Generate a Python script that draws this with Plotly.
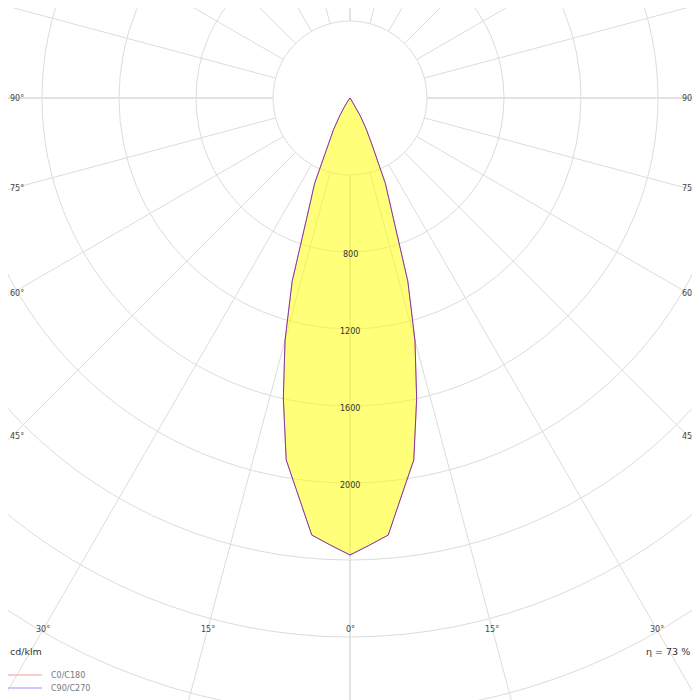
import numpy as np
import plotly.graph_objects as go

# Photometric data (cd/klm) per gamma angle
gamma_deg = [0, 2.5, 5, 7.5, 10, 12.5, 15, 17.5, 20, 22.5, 25, 27.5, 30,
             32.5, 35, 37.5, 40, 45, 50, 60, 70, 80, 90]
c0_c180 = [2374, 2325, 2279, 2075, 1909, 1600, 1304, 1000, 646, 480, 280, 186, 108,
           50, 18, 6, 0, 0, 0, 0, 0, 0, 0]
c90_c270 = [2374, 2325, 2279, 2075, 1909, 1600, 1304, 1000, 646, 480, 280, 186, 108,
            50, 18, 6, 0, 0, 0, 0, 0, 0, 0]

ring_values = [400, 800, 1200, 1600, 2000, 2400, 2800, 3200, 3600]
ring_labels = [800, 1200, 1600, 2000]
angle_labels = [0, 15, 30, 45, 60, 75, 90]
efficiency = 73
unit_label = "cd/klm"
series_names = ["C0/C180", "C90/C270"]

# the page puts the figure 8px in from the window corner
OFF = 8
W, H = 700 - OFF, 700 - OFF
cx, cy = 350 - OFF, 98 - OFF   # pole position in figure pixels
scale = 77 / 400               # pixels per cd/klm
x_range = [-cx / scale, (W - cx) / scale]
y_range = [-(H - cy) / scale, cy / scale]


def to_xy(angles, values):
    # gamma measured from the downward vertical; left half mirrors the right
    a = np.radians(np.concatenate([-np.array(angles[::-1]), np.array(angles[1:])]))
    v = np.concatenate([np.array(values[::-1]), np.array(values[1:])])
    return v * np.sin(a), -v * np.cos(a)


fig = go.Figure()

x0, y0 = to_xy(gamma_deg, c0_c180)
fig.add_trace(go.Scatter(
    x=x0, y=y0, mode="lines", name=series_names[0],
    line=dict(color="rgba(255,0,0,0.55)", width=1),
    fill="toself", fillcolor="rgba(255,255,0,0.52)",
    showlegend=False, hoverinfo="skip"
))
x1, y1 = to_xy(gamma_deg, c90_c270)
fig.add_trace(go.Scatter(
    x=x1, y=y1, mode="lines", name=series_names[1],
    line=dict(color="rgba(0,0,255,0.5)", width=1),
    showlegend=False, hoverinfo="skip"
))

shapes = []
grid_col = "#dcdcdc"
for r in ring_values:
    shapes.append(dict(type="circle", xref="x", yref="y", x0=-r, x1=r, y0=-r, y1=r,
                       line=dict(color=grid_col, width=1), layer="below"))
for a in range(0, 360, 15):
    t = np.radians(a)
    r0, r1 = ring_values[0], 5000
    main = a % 90 == 0
    shapes.append(dict(type="line", xref="x", yref="y",
                       x0=r0 * np.sin(t), y0=-r0 * np.cos(t),
                       x1=r1 * np.sin(t), y1=-r1 * np.cos(t),
                       line=dict(color="#e2e2e2" if main else grid_col, width=2 if main else 1),
                       layer="below"))

# legend swatches
legend_cols = ["rgb(255,185,185)", "rgb(185,185,255)"]
legend_y = [675 - OFF, 688 - OFF]
for col, py in zip(legend_cols, legend_y):
    shapes.append(dict(type="line", xref="paper", yref="paper",
                       x0=0, x1=34 / W, y0=1 - py / H, y1=1 - py / H,
                       line=dict(color=col, width=1.5)))

annotations = []
for v in ring_labels:
    annotations.append(dict(x=0, y=-v, xref="x", yref="y", text=str(v), showarrow=False,
                            yshift=-2, font=dict(size=8, color="#333")))

side = (350 - 11.5) / scale
bottom = (629.5 - 98) / scale
corner = np.degrees(np.arctan(side / bottom))
for a in angle_labels:
    t = np.radians(a)
    for sgn in ([1] if a == 0 else [-1, 1]):
        if a < corner:
            px, py = sgn * bottom * np.tan(t), -bottom
            anchor = "center"
        else:
            px, py = sgn * side, -side / np.tan(t)
            anchor = "center"
            if sgn < 0:
                # keep the left labels inside the figure
                px, anchor = x_range[0], "left"
        annotations.append(dict(x=px, y=py, xref="x", yref="y", text=f"{a}°",
                                xanchor=anchor, yanchor="middle",
                                showarrow=False, font=dict(size=8, color="#444")))

annotations.append(dict(x=0, y=1 - (651 - OFF) / H, xref="paper", yref="paper", text=unit_label,
                        xanchor="left", yanchor="middle", showarrow=False,
                        font=dict(size=9.5, color="#333")))
annotations.append(dict(x=(692 - OFF) / W, y=1 - (651 - OFF) / H, xref="paper", yref="paper",
                        text=f"η = {efficiency} %", xanchor="right", yanchor="middle",
                        showarrow=False, font=dict(size=9.5, color="#333")))
for name, py in zip(series_names, legend_y):
    annotations.append(dict(x=(49 - OFF) / W, y=1 - py / H, xref="paper", yref="paper", text=name,
                            xanchor="left", yanchor="middle", showarrow=False,
                            font=dict(size=8, color="#777")))

fig.update_layout(
    width=W, height=H,
    margin=dict(l=0, r=0, t=0, b=0),
    paper_bgcolor="white", plot_bgcolor="white",
    font=dict(family="DejaVu Sans"),
    xaxis=dict(range=x_range, visible=False, fixedrange=True),
    yaxis=dict(range=y_range, visible=False, fixedrange=True),
    shapes=shapes, annotations=annotations,
    showlegend=False,
)

fig.write_html("out.html")
